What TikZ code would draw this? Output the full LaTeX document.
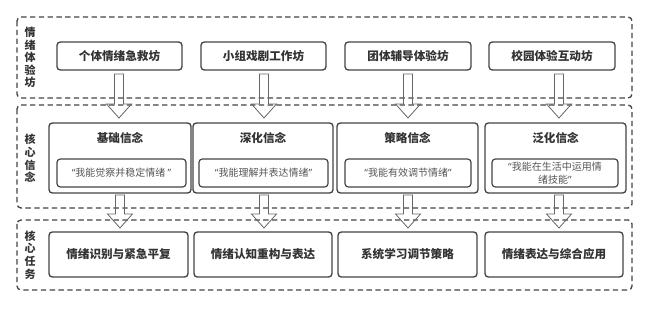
\documentclass[tikz,border=0pt]{standalone}
\usepackage{fontspec}
\newfontfamily\cjk{Noto Sans CJK SC}
\newfontfamily\qf{Noto Sans}
\definecolor{txt}{HTML}{333333}
\definecolor{edge}{HTML}{444444}
\definecolor{arrline}{HTML}{666666}
\definecolor{qtxt}{HTML}{555555}
\newcommand{\qopen}{{\qf “}}
\newcommand{\qclose}{{\qf ”}}
\newcommand{\barrow}[3]{% centre x, top y, tip y
  \draw[arrbox] (#1-4.5,#2) -- (#1+4.5,#2) -- (#1+4.5,#3-14) -- (#1+12.5,#3-14)
    -- (#1,#3) -- (#1-12.5,#3-14) -- (#1-4.5,#3-14) -- cycle;}

\begin{document}
\begin{tikzpicture}[x=0.75pt,y=-0.75pt,
  frame/.style={draw=edge,line width=1pt,dash pattern=on 4pt off 2.6pt,rounded corners=3pt},
  wbox/.style={draw=edge,line width=1pt,rounded corners=2.5pt,minimum height=#1*0.75pt,inner sep=0pt,
    text=txt,font=\cjk\bfseries\fontsize{8.7}{10}\selectfont},
  qbox/.style={draw=edge,line width=0.9pt,rounded corners=2.5pt,minimum height=28*0.75pt,inner sep=0pt,
    text=qtxt,align=center,font=\cjk\fontsize{7.5}{9.8}\selectfont},
  side/.style={text=txt,align=center,font=\cjk\bfseries\fontsize{8.25}{9.45}\selectfont},
  arrbox/.style={draw=arrline,line width=0.6pt,line join=miter}]
\useasboundingbox (0,0) rectangle (649,309);
% three layers
\draw[frame] (17,17) rectangle (632,98);
\draw[frame] (17,105) rectangle (632,208);
\draw[frame] (17,220) rectangle (632,290);
\node[side] (s1) at (30,57.5) {情\\绪\\体\\验\\坊};
\node[side] (s2) at (30,158.5) {核\\心\\信\\念};
\node[side] (s3) at (30,255) {核\\心\\任\\务};
% workshops
\node[wbox=28,minimum width=125*0.75pt] (w1) at (119.5,56) {个体情绪急救坊};
\node[wbox=28,minimum width=125*0.75pt] (w2) at (263.5,56) {小组戏剧工作坊};
\node[wbox=28,minimum width=126*0.75pt] (w3) at (408,56) {团体辅导体验坊};
\node[wbox=28,minimum width=126*0.75pt] (w4) at (552,56) {校园体验互动坊};
% beliefs
\node[wbox=70,minimum width=142*0.75pt] (b1) at (120,158) {};
\node[wbox=70,minimum width=140*0.75pt] (b2) at (263,158) {};
\node[wbox=70,minimum width=141*0.75pt] (b3) at (407.5,158) {};
\node[wbox=70,minimum width=141*0.75pt] (b4) at (555.5,158) {};
\node[text=txt,font=\cjk\bfseries\fontsize{8.7}{10}\selectfont] (t1) at (120,138) {基础信念};
\node[text=txt,font=\cjk\bfseries\fontsize{8.7}{10}\selectfont] (t2) at (263,138) {深化信念};
\node[text=txt,font=\cjk\bfseries\fontsize{8.7}{10}\selectfont] (t3) at (407.5,138) {策略信念};
\node[text=txt,font=\cjk\bfseries\fontsize{8.7}{10}\selectfont] (t4) at (555.5,138) {泛化信念};
\node[qbox,minimum width=129*0.75pt] (q1) at (121.5,173) {\qopen 我能觉察并稳定情绪\ \qclose};
\node[qbox,minimum width=129*0.75pt] (q2) at (263.5,173) {\qopen 我能理解并表达情绪\qclose};
\node[qbox,minimum width=126*0.75pt] (q3) at (408,173) {\qopen 我能有效调节情绪\qclose};
\node[qbox,minimum width=126*0.75pt] (q4) at (555,173) {\qopen 我能在生活中运用情\\绪技能\qclose};
% tasks
\node[wbox=45,minimum width=139*0.75pt] (k1) at (118.5,254.5) {情绪识别与紧急平复};
\node[wbox=45,minimum width=138*0.75pt] (k2) at (263,254.5) {情绪认知重构与表达};
\node[wbox=45,minimum width=139*0.75pt] (k3) at (407.5,254.5) {系统学习调节策略};
\node[wbox=45,minimum width=138*0.75pt] (k4) at (554,254.5) {情绪表达与综合应用};
% block arrows
\foreach \x in {119,264,408,559} \barrow{\x}{74}{118};
\foreach \x in {120,264,408,559} \barrow{\x}{195}{228};
\end{tikzpicture}
\end{document}
